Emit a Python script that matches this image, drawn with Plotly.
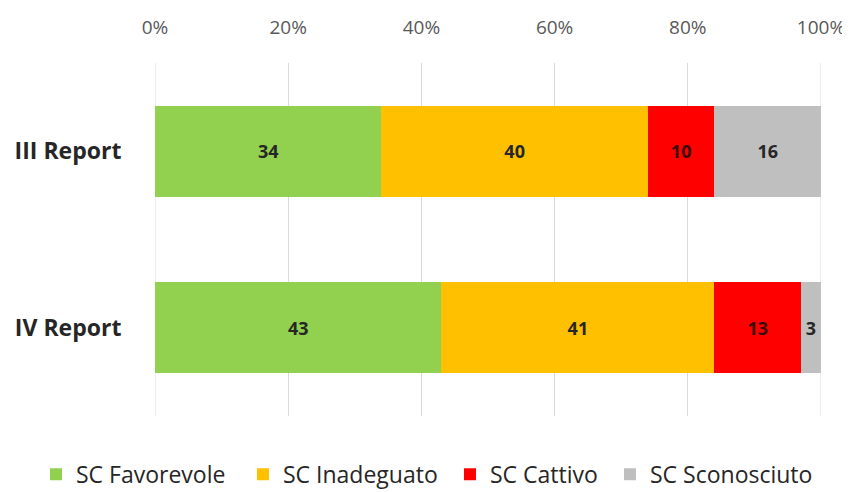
import plotly.graph_objects as go

categories = ["III Report", "IV Report"]
series_names = ["SC Favorevole", "SC Inadeguato", "SC Cattivo", "SC Sconosciuto"]
favorevole = [34, 43]
inadeguato = [40, 41]
cattivo = [10, 13]
sconosciuto = [16, 3]
tick_vals = [0, 20, 40, 60, 80, 100]
tick_text = ["0%", "20%", "40%", "60%", "80%", "100%"]

series_values = [favorevole, inadeguato, cattivo, sconosciuto]
colors = ["#92D050", "#FFC000", "#FF0000", "#BFBFBF"]
text_colors = ["#262626", "#262626", "#3a0a0a", "#262626"]
legend_widths = [162, 162, 115, 168]

FONT = "Open Sans"

fig = go.Figure()
for name, vals, col, tcol, lw in zip(series_names, series_values, colors, text_colors, legend_widths):
    fig.add_trace(go.Bar(
        y=categories, x=vals, name=name, orientation="h",
        marker=dict(color=col, line=dict(width=0)),
        text=[str(v) for v in vals], textposition="inside",
        insidetextanchor="middle", constraintext="none",
        textfont=dict(family=FONT, size=18, color=tcol, weight="bold"),
        legendwidth=lw,
        hoverinfo="skip",
    ))

# gridlines at the plot edges (0% and 100%)
for gx in (tick_vals[0], tick_vals[-1]):
    fig.add_vline(x=gx, line=dict(color="#D9D9D9", width=1), layer="below")

fig.update_layout(
    width=850, height=500,
    barmode="stack", barnorm="percent",
    bargap=0.485,
    paper_bgcolor="white", plot_bgcolor="white",
    margin=dict(l=147, r=37, t=55, b=88),
    font=dict(family=FONT, color="#595959"),
    showlegend=True,
    legend=dict(orientation="h", x=-0.1787, xanchor="left", y=-0.165, yanchor="middle",
                font=dict(family=FONT, size=23, color="#262626"),
                bgcolor="rgba(0,0,0,0)",
                itemwidth=30, tracegroupgap=0, traceorder="normal"),
    xaxis=dict(side="top", range=[0, 100], tickvals=tick_vals, ticktext=tick_text,
               showgrid=True, gridcolor="#D9D9D9", gridwidth=1, zeroline=False,
               showline=False, ticks="outside", ticklen=20, tickcolor="rgba(0,0,0,0)",
               automargin=False,
               tickfont=dict(family=FONT, size=19, color="#595959"), fixedrange=True),
    yaxis=dict(categoryorder="array", categoryarray=categories, autorange="reversed",
               showgrid=False, zeroline=False, showline=False, automargin=False,
               ticks="outside", ticklen=28, tickcolor="rgba(0,0,0,0)",
               tickfont=dict(family=FONT, size=23, color="#262626", weight="bold")),
)

fig.write_html("out.html")
